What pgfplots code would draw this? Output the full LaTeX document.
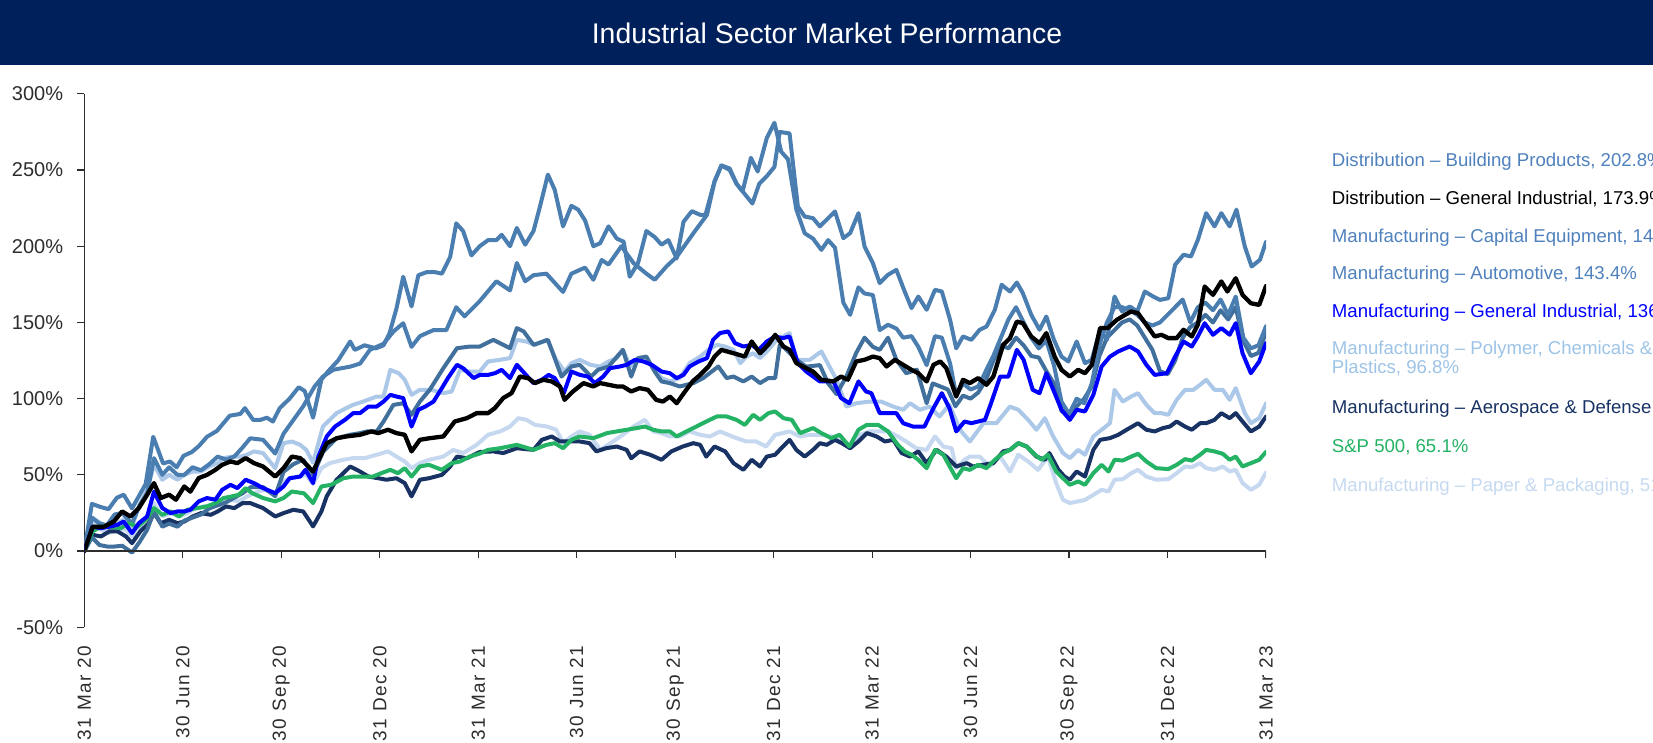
\documentclass[border=0pt]{standalone}
\usepackage{pgfplots}
\pgfplotsset{compat=1.18}
\usepackage{fontspec}
\setmainfont{Liberation Sans}
\definecolor{navybar}{RGB}{0,32,91}
\definecolor{steel}{RGB}{74,126,176}
\definecolor{steeltxt}{RGB}{79,129,189}
\definecolor{slate}{RGB}{66,112,156}
\definecolor{mblue}{RGB}{0,0,255}
\definecolor{poly}{RGB}{172,200,233}
\definecolor{polytxt}{RGB}{157,195,230}
\definecolor{aero}{RGB}{23,50,99}
\definecolor{spgreen}{RGB}{36,178,100}
\definecolor{paper}{RGB}{197,216,239}
\definecolor{papertxt}{RGB}{197,217,241}
\definecolor{axisgray}{RGB}{45,45,45}
\begin{document}
\begin{tikzpicture}[x=1pt,y=1pt]
\useasboundingbox (0,0) rectangle (1653,742);
\clip (0,0) rectangle (1653,742);
\fill[navybar] (0,677) rectangle (1653,742);
\node[text=white, font=\fontsize{28.4}{34}\selectfont] at (827,709) {Industrial Sector Market Performance};
\begin{axis}[
  at={(84.3pt,114.7pt)}, anchor=south west,
  scale only axis, width=1181.7pt, height=533.5pt,
  xmin=0, xmax=156, ymin=-50, ymax=300,
  axis x line*=bottom, axis y line*=left,
  x axis line style={draw=none},
  y axis line style={axisgray, line width=1.4pt},
  xtick={0,13,26,39,52,65,78,91,104,117,130,143,156},
  xticklabels={31 Mar 20,30 Jun 20,30 Sep 20,31 Dec 20,31 Mar 21,30 Jun 21,30 Sep 21,31 Dec 21,31 Mar 22,30 Jun 22,30 Sep 22,31 Dec 22,31 Mar 23},
  xtick style={draw=none},
  xticklabel style={rotate=90, anchor=east, inner sep=0pt, text=axisgray, font=\fontsize{19}{19}\selectfont\addfontfeatures{LetterSpace=8}},
  xticklabel shift=11pt,
  ytick={-50,0,50,100,150,200,250,300},
  yticklabels={-50\%,0\%,50\%,100\%,150\%,200\%,250\%,300\%},
  ytick pos=left, tick align=outside, major tick length=7pt,
  ytick style={axisgray, line width=1.2pt},
  yticklabel style={anchor=east, inner sep=0pt, text=axisgray, font=\fontsize{20}{20}\selectfont},
  yticklabel shift=14pt,
  every axis plot/.append style={line width=4pt, line join=round, line cap=round, mark=none},
]
% Paper & Packaging
\addplot[paper] coordinates {(0,0) (1.1,18.3) (2.2,14) (3.3,11.8) (4.4,15) (5.5,14) (6.3,9.6) (7.4,16) (8.5,24.9) (9.2,31.5) (10.3,22.7) (11.4,24.9) (12.5,22.7) (13.6,24.9) (14.7,28.2) (15.8,29.3) (16.9,30.4) (18,30.4) (19.3,33.7) (20.4,32.6) (21.5,35.9) (22.4,38) (23.7,40.2) (25.2,38) (26.3,46) (27.4,48) (28.5,49) (29.3,50) (30.2,44) (31.3,54.4) (32.4,57.7) (34.2,59.9) (35.5,61) (37,61) (38.6,63.2) (40.1,65.4) (41.2,62) (42.3,58.8) (43.2,54.4) (44.3,57.7) (45.5,59.9) (47.4,62) (48.7,66.4) (50,64.3) (51.8,69.7) (53.3,76.3) (54.9,78.5) (56.2,81.7) (57.3,87.2) (58.4,86.1) (59.5,82.8) (61.1,81.7) (62.3,79.6) (63.2,70.8) (64.3,75.2) (65.4,78.5) (66.7,76.3) (68.1,66.4) (69.8,71.9) (71.1,76.3) (72.5,81.7) (74,86.1) (75.1,78.5) (76.2,77.4) (77.3,75.2) (78.6,75.2) (79.9,78.5) (81.3,76.3) (82.6,75.2) (83.9,78.5) (85,76.3) (86.1,74.1) (87.4,71.9) (88.7,71.9) (90,68.6) (91.2,76.3) (93.1,78.5) (94.5,75.2) (95.8,76.3) (97.3,76.3) (98.6,75.2) (99.9,71.9) (101,67.5) (102.4,76.3) (103.7,78.5) (105,78.5) (106.1,78.5) (107.4,75.2) (108.5,71.9) (109.8,67.5) (111.2,66.4) (112.3,75.2) (113.4,68.6) (114.5,67.5) (115.1,54.4) (116.2,59.9) (116.9,62) (118.2,62) (119.5,55.5) (120.9,62) (122.2,52.2) (123.3,63.2) (124.6,58.8) (125.9,53.3) (127.2,62) (128.3,44.6) (129.2,33.6) (130.1,31.5) (131.2,32.6) (132.1,33.6) (133.2,36.9) (134.3,40.2) (135.2,39.1) (136,46.8) (137.1,47.2) (138.2,51.1) (139.1,53.3) (140.2,48.9) (141.5,46.8) (143.1,47.2) (144.2,51.1) (145.3,55.5) (146.2,55.1) (147.3,57.7) (148.1,54.4) (149.2,53.3) (150.3,55.5) (151.2,52.2) (152,53.3) (152.9,44.6) (154,40.2) (155.1,43.5) (156,51.5)};
% Polymer, Chemicals & Plastics
\addplot[poly] coordinates {(0,0) (1.1,21.6) (2.2,18.3) (3.3,15) (4.4,18.3) (5.5,21.6) (6.3,16) (7.2,29.3) (8.3,40.2) (9.2,56.6) (10.3,46.8) (11.2,50) (12.3,46.8) (13.2,50) (14.3,52.2) (15.4,52.2) (16.5,55.5) (17.6,57.7) (18.4,61) (19.5,62) (20.6,62) (21.5,63.2) (22.4,65.4) (23.6,64.3) (25.2,54.4) (26.3,70.8) (27.4,71.9) (28.5,69.7) (29.3,66.4) (30.2,58) (31.5,81.7) (33.3,90.5) (34.6,93.8) (35.5,96) (36.8,98.1) (38.6,101.4) (39.5,101.4) (40.4,118.9) (41.5,116.7) (42.3,112.4) (43.2,102.5) (44.3,105.8) (45.8,105.8) (47.4,103.6) (48.5,104.7) (49.6,118.9) (50.9,117.8) (52.2,117.8) (53.3,124.4) (54.9,125.5) (56.2,126.6) (57.1,138.6) (58.3,137.5) (59.5,135.3) (61.1,138.6) (62.3,125.5) (63.4,117.8) (64.3,123.3) (65.4,125.5) (66.8,122.2) (68.1,121.1) (69.2,124.4) (70.3,126.6) (71.1,132) (72.1,121.1) (73.1,126.6) (74.2,125.5) (75.3,118.9) (76.2,113.5) (77.3,111.3) (78.6,113.5) (79.9,123.3) (81.3,127.6) (82.4,132) (83.5,135.3) (84.6,134.2) (85.7,132) (86.6,123.3) (87.4,127.6) (88.3,129.8) (89.2,126.6) (90.3,132) (91.4,138.6) (93.1,143) (94,125.5) (95.8,125.5) (97.3,131) (99.3,112.4) (100.6,94.8) (101.9,97) (103.7,98.1) (105.2,98.1) (106.8,94.8) (108.1,92.7) (109,97) (110.3,92.7) (111.6,94.8) (112.9,88.3) (114.2,96) (115.6,79.6) (116.9,71.9) (118.7,83.9) (120.4,83.9) (122.2,94.8) (123.3,92.7) (124.6,86.1) (125.7,79.6) (126.8,87.2) (127.9,75.2) (129.2,64.3) (130.1,61) (131.2,66.4) (132.1,63.2) (133.2,75.2) (134.3,79.6) (135.4,83.9) (136,105.8) (137.1,98.1) (138.2,101.4) (139.1,103.6) (140.2,96) (141.3,90.5) (142.2,90.5) (143.1,89.4) (144.2,99.2) (145.3,105.8) (146.4,105.8) (147.3,109.1) (148.1,112.4) (149.2,105.8) (150.3,105.8) (151.2,99.2) (152,106.9) (153.2,90.5) (154,83.9) (155.1,87.2) (156,96.8)};
% Aerospace & Defense
\addplot[aero] coordinates {(0,0) (1.1,10.7) (2.2,9.6) (3.3,12.9) (4.4,12.9) (5.5,9.6) (6.3,5.2) (7.4,12.9) (8.5,18.3) (9.2,24.9) (10.1,18.3) (11.2,20.5) (12.3,18.3) (13.2,19.4) (14.3,22.7) (15.4,24.9) (16.7,23.8) (17.6,26) (18.7,29.3) (19.8,28.2) (20.9,31.5) (21.9,31.5) (23.6,28.2) (25.2,22.7) (26.3,24.9) (27.6,27.1) (28.9,26) (30.2,16.2) (31.3,26) (32,35.9) (33.3,46.8) (35.1,55.5) (36.4,52.2) (37.5,48.9) (38.8,47.8) (39.9,46.8) (41.2,47.8) (42.3,44.6) (43.2,35.9) (44.3,46.8) (45.5,47.8) (47.2,50) (48.3,55.5) (49.2,62) (50.5,60.9) (52.2,65) (54,65.4) (55.3,64.3) (57.1,67.5) (59.3,66.4) (60.4,73) (61.7,75.2) (62.8,71.9) (64.1,71.9) (65.4,71.9) (66.7,70.8) (67.6,65.4) (68.9,67.5) (70.3,68.6) (71.6,66.4) (72.2,60.9) (73.3,65.4) (74.7,63.2) (76.2,59.9) (77.5,65.4) (79,68.6) (80.4,70.8) (81.3,69.7) (82.1,62) (83.2,68.6) (84.6,65.4) (85.7,57.7) (87,53.3) (88.1,59.9) (89.2,55.5) (90.1,62) (91.2,63.2) (91.8,66.4) (93.1,73) (94,66.4) (95.1,62) (96.2,66.4) (97.1,70.8) (98,69.7) (99.1,73) (100,70.8) (101.1,67.5) (102.2,71.9) (103.3,77.4) (104.6,75.2) (105.7,71.9) (106.8,73) (107.9,64.3) (109,62) (110.1,65.4) (111.2,57.7) (112.5,66.4) (113.8,62) (115.1,55.5) (116.5,57.7) (117.3,55.5) (118.6,56.6) (120,57.7) (121.3,65.4) (122.2,66.4) (123.3,70.8) (124.4,68.6) (125.7,62) (126.8,59.9) (127.4,64.3) (128.6,53.3) (129.4,48.9) (130.1,46.8) (131,52.2) (132.1,48.9) (133.2,66.4) (134.1,73) (135.4,74.1) (136.5,76.3) (137.6,79.6) (139.1,83.9) (140.2,79.6) (141.3,78.5) (142.4,80.7) (143.3,81.7) (144.2,85) (145.3,81.7) (146.2,79.6) (147.3,83.9) (148.1,83.9) (149.2,86.1) (150.1,90.5) (151.2,87.2) (152,90.5) (152.9,85) (154,78.5) (155.1,81.7) (156,88.3)};
% Automotive (middle steel)
\addplot[slate] coordinates {(0,0) (1,9) (2,4) (3,3) (4,3) (5,3.5) (6.3,-1) (7.3,6) (8.3,14) (9.2,26) (10.3,16) (11.2,18) (12.3,16) (13.2,20) (14.3,22) (15.4,24) (16.5,28) (17.6,30) (18.7,32) (19.8,35) (20.9,38) (22,42) (23.6,42) (25.2,36) (26.3,52) (27.6,57) (28.9,60) (30.2,50) (31.5,65) (33.3,74) (35.1,76.3) (36.4,77.4) (37.3,78.5) (38.6,78.5) (39.5,85) (40.8,95.9) (42.1,97) (43.2,89.4) (44.3,98.1) (45.6,105.8) (47.4,120) (49.2,133.1) (50.9,134.2) (52.2,134.2) (54,138.6) (56.2,133.1) (57.1,146.3) (58,144.1) (59.3,135.3) (61.2,138.6) (63,114.5) (64.3,121.1) (65.4,122.2) (66.9,114.5) (67.8,118.9) (69.2,121.1) (71.1,132) (72.2,114.5) (73.1,126.6) (74.2,127.6) (75.3,117.8) (76.2,111.3) (77.3,110.2) (78.6,108) (80.4,110.2) (81.7,113.5) (83.7,121.1) (84.8,113.5) (85.7,114.5) (87,111.3) (88.1,114.5) (89.2,110.2) (90.3,113.5) (91.2,113.5) (91.8,135) (92.3,134) (94,125.5) (95.3,121) (97.1,122) (98.2,110) (99.3,103) (100.6,114.5) (101.9,130) (103,140) (104.1,134) (105,132) (106.1,140) (107.2,125.5) (108.5,116.7) (109.9,119) (111.2,97) (112,110) (113,108) (114,106) (115,95) (116,102) (117,100) (118,104) (119,112) (120,125) (121,135) (122,133) (123,140) (124,135) (125,128) (126,127) (127,118) (128,110) (129,92) (130,88) (131,95) (132,100) (133,108) (134,128) (135,140) (136,145) (137,150) (138,152) (139,148) (140,140) (141,132) (142,118) (143,116) (144,125) (145,140) (146,147) (147,150) (148,155) (149,150) (150,158) (151,152) (152,160) (153,138) (154,128) (155,130) (156,143.4)};
% Capital Equipment (steel)
\addplot[steel] coordinates {(0,0) (1,31) (2.1,29) (3.2,27.5) (4.3,35) (5.2,37) (6.3,28) (8.1,44) (9.1,75) (10.4,57.5) (11.3,58.8) (12.2,55) (13.1,62.5) (14.2,65) (15.1,68.8) (16.2,75) (17.5,78.8) (19.2,88.8) (20.6,90) (21.2,93.8) (22.3,86) (23.2,86) (24.1,87.5) (24.9,85) (25.8,93.8) (27.1,100) (28.3,107.5) (29.1,105) (30.2,87.5) (31.3,112.5) (32.2,118) (33.5,125) (35.1,137.5) (35.7,132) (37,135) (38.5,133) (39.5,135) (40.3,143) (41.2,159) (42.1,180) (43.2,160.5) (44.1,181) (45.2,183) (46.3,183) (47.2,182) (48.3,193) (49.1,215) (50,210) (51.1,194) (52.2,200) (53.3,204) (54.4,204) (55.1,207.5) (56.2,200) (57.1,212) (58.2,201) (59.3,210) (60.1,225) (61.2,247) (62.1,237) (63.2,213) (64.3,226.5) (65.2,224) (66.1,217) (67.2,200) (68.1,202) (69.2,213) (70.3,205) (71.2,203) (72,180) (73.1,189) (74.2,210) (75.3,206) (76.2,201) (77.1,204) (78.2,192) (79.1,216) (80.2,223) (81.3,220.6) (82,220.6) (83.2,242.5) (84.1,253) (85.2,250) (86.1,241) (86.9,236) (88,258) (88.9,249) (90.1,271) (91.1,281) (92,262) (92.9,257) (94,224) (95.1,208.5) (96.2,205) (97.3,197.6) (98.2,204) (99.1,199) (100.2,163) (101.1,155) (102.2,173) (103,169) (104.1,168) (105,145) (106.1,148.5) (107.2,146) (108.1,140) (109.2,141) (110.1,134) (111.2,122) (112.3,141) (113.2,140) (114.3,123) (115.1,102) (116,110) (117,106) (118,108) (119,118) (120,128) (121,140) (122,152) (123,160) (124,150) (125,140) (126,133) (127,138) (128,122) (129,98) (130,90) (131,100) (132,97) (133,110) (134,135) (135,150) (136,160) (137,160) (138,158) (139,155) (140,150) (141,148) (142,150) (143,155) (144,160) (145,165) (146,150) (147,160) (148,163) (149,158) (150,165) (151,155) (152,167) (153,140) (154,133) (155,135) (156,147.6)};
% Building Products (steel)
\addplot[steel] coordinates {(0,0) (1,22) (2,18) (3,17) (4,24) (5,25) (6.3,18) (7.3,30) (8.3,38) (9.2,61) (10.3,50) (11.2,55) (12.3,50) (13.2,50) (14.3,55) (15.4,53) (16.5,57) (17.6,62) (18.7,60) (19.8,62) (20.9,68) (21.9,74) (23.6,73) (25.2,64) (26.3,77) (27.6,86) (28.9,95) (30.4,108) (31.5,114.5) (32.9,119) (35.1,121) (36.4,123) (37.7,132) (39.5,136) (40.8,144) (42.1,149.5) (43.2,134) (44.3,141) (46.1,145) (47.8,145) (49.1,160) (50.2,154) (52.2,164) (54.4,177) (56.2,171) (57.1,189) (58.2,177) (59.3,181) (61,182) (63.2,170) (64.3,182) (66.1,186) (67.2,178) (68.3,191) (69.2,188) (70.9,200) (72.5,189) (74.2,182) (75.3,178) (76.9,187) (78.2,193) (80.4,208.5) (82.2,220.6) (83.2,242.5) (84.1,253) (85.2,251) (86.1,241) (86.9,236) (88.2,228) (89.1,241) (90.1,246) (91.1,252) (91.8,275) (93.1,274) (94.2,226) (95.1,219.5) (96.2,218.4) (97.1,213) (99.1,222.8) (100.2,205.3) (101.1,208.6) (102.2,221.7) (103,199.8) (104.1,188.9) (105,175.8) (106.1,181.3) (107.2,184.5) (108.3,170.3) (109.2,159.4) (110.1,167) (111.2,158.3) (112.3,171.4) (113.2,170.3) (114.3,151.6) (115.1,133) (116,140.8) (117.1,138.6) (118.2,145.2) (119.1,147.3) (120.2,158.3) (121.1,174.7) (122.2,170.3) (123.1,176.2) (123.9,169.2) (125,155.1) (126.1,145.2) (127,153.9) (128,138.6) (129,127.6) (129.9,124.4) (131,137.5) (132.1,123.3) (133,125.5) (134.1,145.2) (135,138.6) (136,167) (137,157.2) (138,160.5) (139,157.2) (140,170.3) (141.1,167) (142,164.8) (143.1,165.9) (144,187.8) (145.1,194.4) (146.1,193.3) (147,204.2) (148.1,221.7) (149.2,213) (150.1,221.7) (151.2,213) (152.1,224) (153.2,199.8) (154.1,186.7) (155.2,191.1) (156,202.8)};
% S&P 500
\addplot[spgreen] coordinates {(0,0) (1.1,13) (2.2,16) (3.5,16) (4.8,15) (5.9,18.3) (7,16) (8.1,20.5) (9.2,28.2) (10.3,23.8) (11.4,26) (12.5,22.7) (13.6,27.1) (14.9,28.2) (16.2,29.3) (17.3,31.5) (18.4,34.8) (19.5,35.9) (20.4,37) (21.3,41.3) (22.2,37.9) (23.6,34.8) (25.2,32.6) (26.3,34.8) (27.4,39.1) (29,37.9) (30.2,31.5) (31.3,42.4) (32.6,43.5) (34.2,47.8) (35.5,48.9) (36.8,48.9) (38.1,48.9) (39.2,51.1) (40.4,53.3) (41.4,51.1) (42.3,54.4) (43.2,48.9) (44.3,55.5) (45.5,56.6) (47.2,53.3) (48.5,57.7) (49.6,58.8) (50.9,62) (52.2,64) (53.3,66.4) (54.9,67.5) (57.1,69.7) (59.3,66.4) (61,69.7) (62.1,70.8) (63.2,67.5) (64.3,73) (65.4,75.2) (67.2,74.1) (69,77.4) (70.3,78.5) (71.6,79.6) (72.9,80.7) (74,81.7) (75.1,79.6) (76.2,78.5) (77.3,78.5) (78.2,75.2) (79.5,78.5) (80.8,81.7) (82.1,85) (83.5,88.3) (84.8,88.3) (86.1,86.1) (87.2,82.8) (88.3,89.4) (89.2,86.1) (90.3,90.5) (91.2,91.6) (92.3,87.2) (93.4,86.1) (94.5,77.4) (96.2,80.7) (97.3,77.4) (98.6,74.1) (99.7,76.3) (101,68.6) (102.2,79.6) (103.3,82.8) (104.8,82.8) (106.1,78.5) (107.4,69.7) (108.3,65.4) (109.2,63.2) (110.1,59.9) (111.2,54.4) (112.3,66.4) (113.4,63.2) (115.1,47.8) (116,54.4) (116.9,53.3) (118,56.6) (119.1,54.4) (120.2,59.9) (121.3,64.3) (122.2,66.4) (123.3,70.8) (124.4,68.6) (125.5,63.2) (126.4,59.9) (127.2,63.2) (128.3,52.2) (129.2,47.8) (130.1,43.5) (131.2,45.7) (132.1,43.5) (133.2,51.1) (134.3,56.6) (135.2,52.2) (136,59.9) (137.1,59.4) (138.2,62) (139.1,63.8) (140.2,58.8) (141.5,54.4) (143.1,53.8) (144.2,56.6) (145.3,60.3) (146.2,59.4) (147.3,63.2) (148.1,66.4) (149.2,65.4) (150.3,63.8) (151.2,59.9) (152,62) (152.9,55.5) (154,57.7) (155.1,59.9) (156,65.1)};
% Manufacturing - General Industrial
\addplot[mblue] coordinates {(0,0) (1.1,16) (2.2,15) (3.3,16) (4.4,17.3) (5.2,19.4) (6.3,11.8) (7.2,18.3) (8.3,22.7) (9.2,39) (10.3,28.2) (11.4,24.9) (12.3,26) (13.2,26) (14,27.1) (15.1,32.6) (16.2,34.8) (17.3,33.7) (18.2,40.2) (19.3,43.5) (20.2,41.3) (21.3,46.8) (22.4,44.6) (23.6,41.3) (25.2,38) (26.3,42.4) (27.1,47.8) (28.5,48.9) (29.2,53.3) (30.2,44.6) (30.9,62) (32,75.2) (33.1,81.7) (34.4,86.1) (35.5,90.5) (36.4,90.5) (37.5,94.8) (38.6,94.8) (39.5,98.1) (40.4,102.5) (41.2,101.4) (42.1,100.4) (43.2,81.7) (44.1,92.7) (45,94.8) (46.1,98.1) (47.2,106.9) (48,113.5) (49.2,122.2) (50,120) (51.4,113.5) (52.2,115.6) (53.3,115.6) (54.2,116.7) (55.1,118.9) (56.2,113.5) (57.1,122.2) (58.3,115.6) (59.3,110.2) (60.4,112.4) (61.3,115.6) (62.1,113.5) (63.3,103.6) (64.3,117.8) (65.4,115.6) (66.5,114.5) (67.4,110.2) (68.5,114.5) (69.4,120) (70.7,121.1) (71.6,122.2) (72.7,125.5) (73.8,124.4) (74.9,122.2) (76.2,117.8) (77.3,116.7) (78.2,113.5) (79.1,115.6) (79.9,121.1) (81.1,124.4) (82.2,126.6) (83,138.6) (83.9,143) (85,144.1) (85.9,136.4) (87,134.2) (88.1,135.3) (89,132) (90.1,137.5) (91.2,140.8) (92.2,139.7) (93.1,140.8) (94.2,123.3) (95.3,117.8) (97.1,111.3) (98.9,111.3) (99.9,100.4) (101,97) (102.2,111.3) (103.2,104.7) (103.9,103.6) (105,90.5) (106.1,90.5) (107.2,90.5) (108.1,83.9) (109.4,81.7) (110.9,81.7) (112.1,93.8) (113.2,103.6) (114.2,93.8) (115.1,78.5) (116.2,85) (117.1,83.9) (118.9,86.1) (119.7,97) (120.9,114.5) (122,114.5) (123.1,132) (124,125.5) (125.2,105.8) (126.1,103.6) (127,116.7) (128.1,103.6) (129,92.7) (130.1,86.1) (131,92.7) (132.1,91.6) (133.2,102.5) (134.3,121.1) (135.4,127.6) (136.5,131) (138,134.2) (139.1,131) (140.2,122.2) (141.3,115.6) (142.9,116.7) (144,127.6) (145.1,137.5) (146.2,134.2) (147,140.8) (147.9,149.5) (149,141.9) (150.1,146.3) (151.2,141.9) (152,149.5) (152.9,129.8) (154,116.7) (155.1,124.4) (156,136.4)};
% Distribution - General Industrial
\addplot[black, line width=4.3pt] coordinates {(0,0) (1.1,16) (2.6,16) (3.9,19.4) (5,26) (6.1,22.7) (7.2,28.2) (8.3,37) (9.2,44.6) (10.1,34.8) (11.2,37) (12.1,33.7) (13.2,42.4) (14,39) (15.1,47.9) (16.2,50) (17.3,53.3) (18.2,56.6) (19.3,58.8) (20.2,57.7) (21.3,61) (22.4,57.7) (23.6,55.5) (25.2,48.9) (26.3,54.4) (27.4,62) (28.5,61) (30.2,52.2) (32,70.8) (33.3,74) (34.6,75.2) (36.4,76.3) (37.9,78.5) (38.8,77.4) (40.1,79.6) (41.2,77.4) (42.3,76.3) (43.2,65.4) (44.3,73) (45.5,74) (47.4,75.2) (48.9,85) (50.5,87.2) (51.8,90.5) (53.3,90.5) (54.2,93.8) (55.3,100.4) (56.4,103.6) (57.5,114.5) (58.6,113.4) (59.5,110.2) (60.6,112.4) (61.7,111.3) (62.8,108) (63.4,99.2) (64.5,104.7) (65.9,110.2) (67.2,108) (68.1,110.2) (69.2,109.1) (70.3,108) (71.1,108) (72.2,104.7) (73.3,106.9) (74.4,105.8) (75.5,99.2) (76.4,98.1) (77.3,101.4) (78.2,97) (79.3,104.7) (80.3,111.3) (81.3,115.6) (82.4,121.1) (83.2,127.6) (84.1,132) (85.7,129.8) (87.2,127.6) (88.1,137.5) (89.2,129.8) (90.3,135.3) (91.2,141.9) (92.3,134.2) (93.1,132) (94,123.3) (95.3,120) (96.2,117.8) (97.3,112.4) (98.9,111.3) (99.9,114.5) (100.8,112.4) (101.9,124.4) (103,125.5) (104.1,127.6) (105,126.6) (105.9,121.1) (107,125.5) (108.1,122.2) (109.2,118.9) (110.1,116.7) (111.2,111.3) (112.1,122.2) (113,124.4) (113.8,120) (115.1,101.4) (116,112.4) (116.9,110.2) (118,113.5) (119.1,109.1) (120,114.5) (121.3,135.3) (122.2,139.7) (123.1,150.6) (123.9,149.5) (125,140.8) (126.1,136.4) (127,143) (128.1,127.6) (129,118.9) (130.1,114.5) (131.2,118.9) (132.1,116.7) (133,122.2) (134.1,146.3) (135.1,146.3) (136.3,151.7) (137.4,155) (138.2,157.2) (139.1,156.1) (140.2,148.5) (141.3,140.8) (142.2,141.9) (143.1,139.7) (144.2,139.7) (145.1,145.2) (146.2,140.8) (147,148.5) (147.9,173.6) (149,168.1) (150.1,176.9) (150.9,170.3) (152,179) (152.9,168.1) (154,162.6) (155.1,161.5) (156,173.9)};
% zero line and its ticks
\draw[axisgray, line width=1.4pt] (axis cs:0,0) -- (axis cs:156,0);
\pgfplotsinvokeforeach{13,26,39,52,65,78,91,104,117,130,143,156}{
  \draw[axisgray, line width=1.2pt] (axis cs:#1,0) -- ++(0pt,-7pt);
}
\end{axis}
\begin{scope}[font=\fontsize{18.6}{22}\selectfont]
\node[anchor=base west, inner sep=0pt, text=steeltxt] at (1331.7,575.3) {Distribution – Building Products, 202.8\%};
\node[anchor=base west, inner sep=0pt, text=black] at (1331.7,537.6) {Distribution – General Industrial, 173.9\%};
\node[anchor=base west, inner sep=0pt, text=steeltxt] at (1331.7,499.8) {Manufacturing – Capital Equipment, 147.6\%};
\node[anchor=base west, inner sep=0pt, text=steeltxt] at (1331.7,462.3) {Manufacturing – Automotive, 143.4\%};
\node[anchor=base west, inner sep=0pt, text=mblue] at (1331.7,424.6) {Manufacturing – General Industrial, 136.4\%};
\node[anchor=base west, inner sep=0pt, text=polytxt] at (1331.7,387.3) {Manufacturing – Polymer, Chemicals \&};
\node[anchor=base west, inner sep=0pt, text=polytxt] at (1331.7,368.3) {Plastics, 96.8\%};
\node[anchor=base west, inner sep=0pt, text=aero] at (1331.7,328.3) {Manufacturing – Aerospace \& Defense, 88.3\%};
\node[anchor=base west, inner sep=0pt, text=spgreen] at (1331.7,289.3) {S\&P 500, 65.1\%};
\node[anchor=base west, inner sep=0pt, text=papertxt] at (1331.7,250.3) {Manufacturing – Paper \& Packaging, 51.5\%};
\end{scope}
\end{tikzpicture}
\end{document}
